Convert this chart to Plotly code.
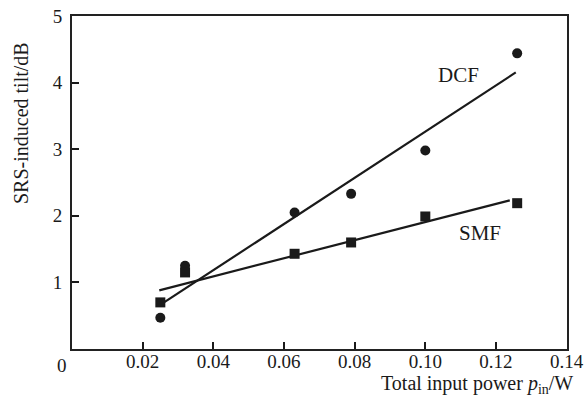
import numpy as np
import plotly.graph_objects as go

# Data
power_w = [0.025, 0.032, 0.063, 0.079, 0.100, 0.126]
dcf_tilt_db = [0.47, 1.25, 2.05, 2.33, 2.98, 4.44]
smf_tilt_db = [0.70, 1.15, 1.43, 1.60, 1.99, 2.19]

# Extent of the fitted lines along x
dcf_fit_range = [0.0255, 0.1256]
smf_fit_range = [0.0247, 0.1239]

x_ticks = [0.02, 0.04, 0.06, 0.08, 0.10, 0.12, 0.14]
x_tick_text = ["0.02", "0.04", "0.06", "0.08", "0.10", "0.12", "0.14"]
y_ticks = [1, 2, 3, 4, 5]

FONT = "Liberation Serif, Times New Roman, serif"
INK = "#1a1a1a"
FRAME = "#222222"

W, H = 584, 407
ML, MR, MT, MB = 72, 17, 16, 58
PW, PH = W - ML - MR, H - MT - MB


def fit_line(xs, ys, rng):
    k, b = np.polyfit(xs, ys, 1)
    xr = np.array(rng)
    return xr, k * xr + b


fig = go.Figure()

dx, dy = fit_line(power_w, dcf_tilt_db, dcf_fit_range)
sx, sy = fit_line(power_w, smf_tilt_db, smf_fit_range)

fig.add_trace(go.Scatter(x=dx, y=dy, mode="lines",
                         line=dict(color=INK, width=2.2), showlegend=False))
fig.add_trace(go.Scatter(x=sx, y=sy, mode="lines",
                         line=dict(color=INK, width=2.2), showlegend=False))
fig.add_trace(go.Scatter(x=power_w, y=dcf_tilt_db, mode="markers",
                         marker=dict(symbol="circle", size=10, color=INK),
                         name="DCF", showlegend=False))
fig.add_trace(go.Scatter(x=power_w, y=smf_tilt_db, mode="markers",
                         marker=dict(symbol="square", size=10, color=INK),
                         name="SMF", showlegend=False))

fig.update_layout(
    width=W, height=H,
    margin=dict(l=ML, r=MR, t=MT, b=MB, pad=0),
    paper_bgcolor="white", plot_bgcolor="white",
    font=dict(family=FONT, size=19, color=INK),
    xaxis=dict(range=[0, 0.1401], tickvals=x_ticks, ticktext=x_tick_text,
               ticks="inside", ticklen=7, tickwidth=1.5, tickcolor=INK,
               showline=True, linecolor=FRAME, linewidth=2, mirror=True,
               showgrid=False, zeroline=False,
               ticklabelstandoff=-6, automargin=False),
    yaxis=dict(range=[0, 5.001], tickvals=y_ticks,
               ticks="inside", ticklen=7, tickwidth=1.5, tickcolor=INK,
               showline=True, linecolor=FRAME, linewidth=2, mirror=True,
               showgrid=False, zeroline=False,
               ticklabelstandoff=4, automargin=False),
    annotations=[
        dict(text="DCF", x=0.1095, y=4.12, xref="x", yref="y",
             showarrow=False, font=dict(family=FONT, size=21, color=INK)),
        dict(text="SMF", x=0.1155, y=1.74, xref="x", yref="y",
             showarrow=False, font=dict(family=FONT, size=21, color=INK)),
        dict(text="0", x=62, y=H - 365, xref="paper", yref="paper",
             showarrow=False, font=dict(family=FONT, size=19, color=INK)),
        dict(text="Total input power <i>p</i><sub>in</sub>/W",
             x=477, y=H - 384, xref="paper", yref="paper",
             showarrow=False, font=dict(family=FONT, size=20, color=INK)),
        dict(text="SRS-induced tilt/dB", textangle=-90,
             x=21, y=H - 123, xref="paper", yref="paper",
             showarrow=False, font=dict(family=FONT, size=20, color=INK)),
    ],
)

# Convert pixel-placed annotations into paper fractions
for a in fig.layout.annotations:
    if a.xref == "paper":
        a.x = (a.x - ML) / PW
        a.y = (a.y - MB) / PH
        a.xanchor = "center"
        a.yanchor = "middle"

fig.write_html(
    "out.html",
    config={"displayModeBar": False},
    post_script=(
        "document.body.style.margin='0px';"
        "document.body.style.overflow='hidden';"
    ),
)
